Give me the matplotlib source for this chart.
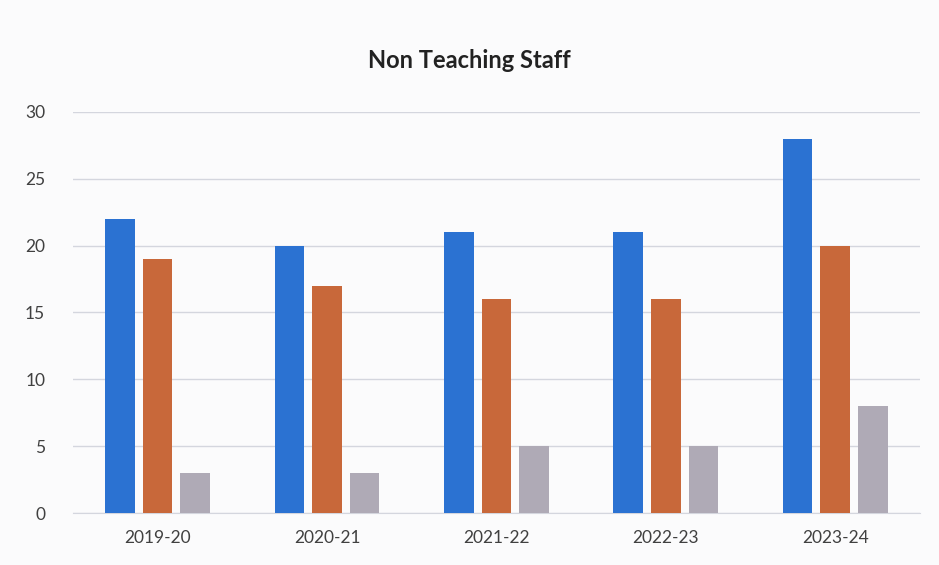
import numpy as np
import matplotlib.pyplot as plt

plt.rcParams['font.family'] = ['Lato', 'DejaVu Sans']

# Data
years = ["2019-20", "2020-21", "2021-22", "2022-23", "2023-24"]
series_a = [22, 20, 21, 21, 28]
series_b = [19, 17, 16, 16, 20]
series_c = [3, 3, 5, 5, 8]

colors = ["#2B72D2", "#C8683A", "#AFAAB6"]

x = np.arange(len(years))
width = 0.175
step = 0.222

fig = plt.figure(figsize=(9.39, 5.65), dpi=100)
fig.patch.set_facecolor("#FBFBFC")
ax = fig.add_axes([0.0777, 0.092, 0.902, 0.71])
ax.set_facecolor("#FBFBFC")

ax.bar(x - step, series_a, width, color=colors[0], zorder=3)
ax.bar(x, series_b, width, color=colors[1], zorder=3)
ax.bar(x + step, series_c, width, color=colors[2], zorder=3)

ax.set_xlim(-0.5, len(years) - 0.5)
ax.set_ylim(0, 30)
ax.set_yticks(range(0, 31, 5))
ax.set_xticks(x)
ax.set_xticklabels(years)
ax.grid(axis="y", color="#D4D6DE", linewidth=1, zorder=0)
for s in ["top", "right", "left"]:
    ax.spines[s].set_visible(False)
ax.spines["bottom"].set_color("#D4D6DE")
ax.tick_params(length=0, labelsize=12.5, labelcolor="#404040")
ax.tick_params(axis="x", pad=12)
ax.tick_params(axis="y", pad=20)

fig.text(0.5, 0.893, "Non Teaching Staff", ha="center", va="center",
         fontsize=17, fontweight="bold", color="#222222")

fig.savefig("out.png", dpi=100, facecolor=fig.get_facecolor())
